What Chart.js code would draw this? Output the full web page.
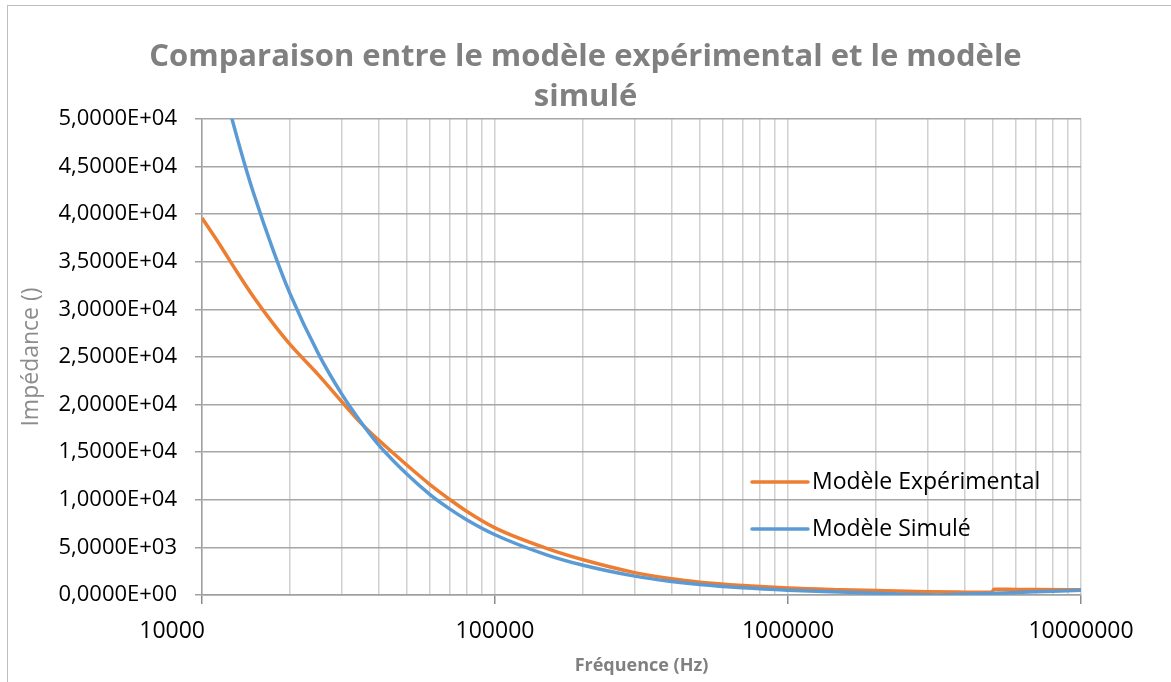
<!DOCTYPE html>
<html>
<head>
<meta charset="utf-8">
<script src="https://cdn.jsdelivr.net/npm/chart.js@4/dist/chart.umd.min.js"></script>
<style>
    body { margin: 0; background: #fff; overflow: hidden; }
    #frame { position: absolute; left: 7px; top: 5px; width: 1170px; height: 700px; border: 1px solid #bfbfbf; }
    #myChart { position: absolute; left: 0; top: 0; }
</style>
</head>
<body>
<div id="frame"></div>
<canvas id="myChart" width="1171" height="682"></canvas>
<script>
// values
const freqExp = [10000, 11000, 12000, 13000, 15000, 17500, 20000, 25000, 30000, 35000, 40000, 50000,
    60000, 70000, 80000, 100000, 150000, 200000, 300000, 400000, 500000, 700000, 1000000, 1500000,
    2000000, 3000000, 4000000, 4950000, 5050000, 6000000, 7000000, 10000000];
const impExp = [39600, 37700, 35900, 34200, 31300, 28500, 26300, 23100, 20300, 18000, 16300, 13650,
    11600, 10050, 8800, 7050, 4900, 3700, 2350, 1700, 1350, 1000, 740, 560,
    460, 340, 300, 280, 600, 590, 580, 540];

const freqSim = [10000, 11000, 12000, 13000, 14000, 15000, 17500, 20000, 25000, 30000, 35000, 40000,
    50000, 60000, 70000, 80000, 100000, 150000, 200000, 300000, 400000, 500000, 700000, 1000000,
    1500000, 2000000, 2500000, 3000000, 3200000, 3500000, 4000000, 5000000, 6000000, 7000000, 8500000, 10000000];
const impSim = [63300, 57500, 52700, 48700, 45200, 42200, 36200, 31600, 25300, 21100, 18100, 15800,
    12700, 10550, 9050, 7910, 6330, 4220, 3120, 1980, 1420, 1100, 760, 510,
    320, 190, 90, 25, 5, 35, 95, 180, 260, 330, 420, 490];

const seriesNames = ['Modèle Expérimental', 'Modèle Simulé'];
const xTickLabels = ['10000', '100000', '1000000', '10000000'];
const xDecades = [10000, 100000, 1000000, 10000000];

const FONT = '"Open Sans", "Liberation Sans", Arial, sans-serif';

// grid lines 1..9 x 10^n between the decades
const xGrid = [];
for (let d = 0; d < xDecades.length; d++) {
    for (let k = 1; k <= 9; k++) {
        const v = xDecades[d] * k;
        if (v <= xDecades[xDecades.length - 1]) xGrid.push(v);
    }
}

const sci = (v) => {
    if (v === 0) return '0,0000E+00';
    const e = Math.floor(Math.log10(Math.abs(v)) + 1e-9);
    const m = v / Math.pow(10, e);
    return m.toFixed(4).replace('.', ',') + 'E' + (e < 0 ? '-' : '+') + String(Math.abs(e)).padStart(2, '0');
};

const toPoints = (xs, ys) => xs.map((x, i) => ({ x: x, y: ys[i] }));

const legendBox = {
    id: 'legendBox',
    afterDatasetsDraw(chart) {
        const ctx = chart.ctx;
        const area = chart.chartArea;
        const x0 = area.right - 329;
        let y = area.bottom - 113;
        ctx.save();
        ctx.font = '23px ' + FONT;
        ctx.textBaseline = 'middle';
        chart.data.datasets.forEach((ds) => {
            ctx.strokeStyle = ds.borderColor;
            ctx.lineWidth = 3.5;
            ctx.lineCap = 'round';
            ctx.beginPath();
            ctx.moveTo(x0, y);
            ctx.lineTo(x0 + 56, y);
            ctx.stroke();
            ctx.fillStyle = '#000';
            ctx.fillText(ds.label, x0 + 60, y);
            y += 47;
        });
        ctx.restore();
    }
};

const data = {
    datasets: [{
        label: seriesNames[0],
        data: toPoints(freqExp, impExp),
        borderColor: '#ED7D31',
        backgroundColor: '#ED7D31',
        borderWidth: 3.5,
        pointRadius: 0,
        cubicInterpolationMode: 'monotone',
        order: 1
    }, {
        label: seriesNames[1],
        data: toPoints(freqSim, impSim),
        borderColor: '#5B9BD5',
        backgroundColor: '#5B9BD5',
        borderWidth: 3.5,
        pointRadius: 0,
        cubicInterpolationMode: 'monotone',
        order: 0
    }]
};

const config = {
    type: 'line',
    data: data,
    plugins: [legendBox],
    options: {
        responsive: false,
        animation: false,
        layout: { padding: 0 },
        plugins: {
            legend: { display: false },
            tooltip: { enabled: false },
            title: {
                display: true,
                text: ['Comparaison entre le modèle expérimental et le modèle', 'simulé'],
                color: '#808080',
                font: { family: FONT, size: 31, weight: 'bold', lineHeight: 1.29 },
                padding: { top: 37, bottom: 2 }
            }
        },
        scales: {
            x: {
                type: 'logarithmic',
                min: 10000,
                max: 10000000,
                afterBuildTicks: (scale) => {
                    scale.ticks = xGrid.map(v => ({ value: v }));
                },
                afterFit: (scale) => { scale.height = 87; },
                ticks: {
                    autoSkip: false,
                    maxRotation: 0,
                    color: '#000',
                    padding: 14,
                    font: { family: FONT, size: 23 },
                    callback: (value) => {
                        const i = xDecades.indexOf(value);
                        if (i < 0) return '';
                        // first label sits left of the axis in the original
                        return i === 0 ? xTickLabels[i] + ' '.repeat(10) : xTickLabels[i];
                    }
                },
                grid: {
                    color: '#d0d0d0',
                    lineWidth: 1.5,
                    tickLength: 9,
                    tickColor: (c) => xDecades.includes(c.tick && c.tick.value) ? '#8c8c8c' : 'rgba(0,0,0,0)'
                },
                border: { color: '#a0a0a0', width: 1.5 },
                title: {
                    display: true,
                    text: 'Fréquence (Hz)',
                    color: '#808080',
                    font: { family: FONT, size: 18, weight: 'bold' },
                    padding: { top: 2, bottom: 5 }
                }
            },
            y: {
                min: 0,
                max: 50000,
                afterFit: (scale) => { scale.width = 202; },
                ticks: {
                    stepSize: 5000,
                    color: '#000',
                    padding: 18,
                    font: { family: FONT, size: 22 },
                    callback: (value) => sci(value)
                },
                grid: {
                    color: '#a6a6a6',
                    lineWidth: 1.5,
                    tickLength: 7,
                    tickColor: '#a0a0a0'
                },
                border: { color: '#a0a0a0', width: 1.5 },
                title: {
                    display: true,
                    text: 'Impédance ()',
                    color: '#8c8c8c',
                    font: { family: FONT, size: 23 },
                    padding: { top: 18, bottom: 0 }
                }
            },
            // empty strip on the right so the title stays centred on the whole frame
            side: {
                position: 'right',
                display: true,
                ticks: { display: false },
                grid: { display: false, drawTicks: false },
                border: { display: false },
                afterFit: (scale) => { scale.width = 90; }
            }
        }
    }
};

const myChart = new Chart(document.getElementById('myChart'), config);
</script>
</body>
</html>
